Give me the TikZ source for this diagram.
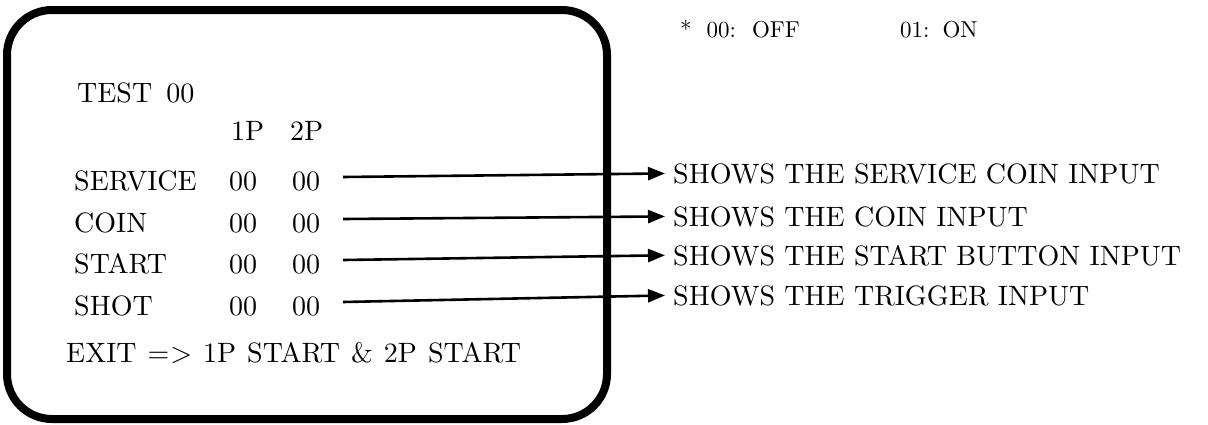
\documentclass[tikz,border=0pt]{standalone}
\usepackage{fontspec}
\setmainfont{lmroman10-regular.otf}
\usetikzlibrary{arrows.meta}
\begin{document}
\begin{tikzpicture}[x=1pt,y=-1pt,
  txt/.style={anchor=base west,inner sep=0pt,font=\fontsize{28}{32}\selectfont},
  note/.style={anchor=base west,inner sep=0pt,font=\fontsize{23}{26}\selectfont},
  arr/.style={line width=2.6pt,-{Triangle[length=17pt,width=13pt]}}]
\useasboundingbox (0,0) rectangle (1208,424);
\draw[line width=8pt,rounded corners=45pt] (7,10) rectangle (607,419);
\node[txt] (test) at (77,102) {TEST\hspace{14pt}00};
\node[txt] (h1) at (231,140) {1P};
\node[txt] (h2) at (290,140) {2P};
\node[txt] (l1) at (74,190) {SERVICE};
\node[txt] (l2) at (74,232) {COIN};
\node[txt] (l3) at (74,273) {START};
\node[txt] (l4) at (74,315) {SHOT};
\foreach \i/\y in {1/190,2/232,3/273,4/315}{
  \node[txt] (a\i) at (229,\y) {00};
  \node[txt] (b\i) at (292,\y) {00};
}
\node[txt] (exit) at (66,362) {\spaceskip=11pt EXIT =\kern1pt> 1P START \& 2P START};
\node[note] (off) at (680,37) {*\hspace{15pt}00:\hspace{16pt}OFF};
\node[note] (on) at (900,37) {01:\hspace{13pt}ON};
\node[txt] (r1) at (673,183) {SHOWS THE SERVICE COIN INPUT};
\node[txt] (r2) at (673,226) {SHOWS THE COIN INPUT};
\node[txt] (r3) at (673,265) {SHOWS THE START BUTTON INPUT};
\node[txt] (r4) at (673,305) {SHOWS THE TRIGGER INPUT};
\foreach \i/\y in {1/177,2/219,3/260,4/302}{
  \coordinate (s\i) at (343,\y);
  \draw[arr] (s\i) -- ([xshift=-8pt]r\i.west);
}
\end{tikzpicture}
\end{document}
